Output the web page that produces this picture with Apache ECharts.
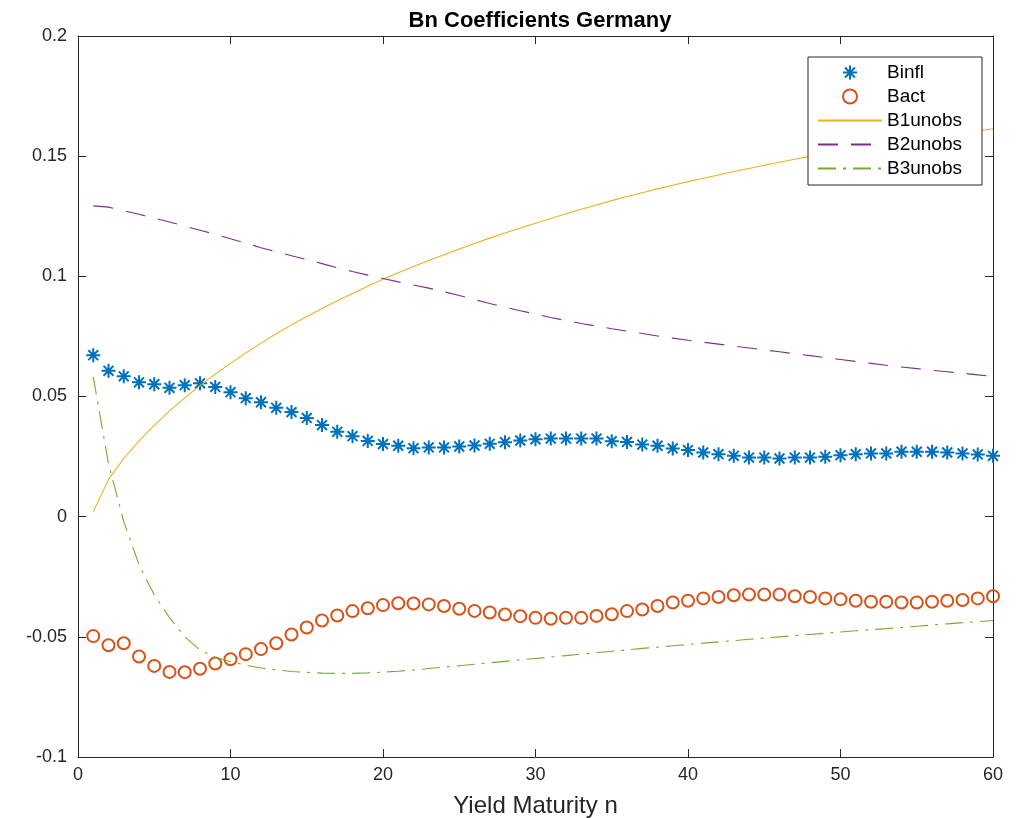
<!DOCTYPE html>
<html>
<head>
<meta charset="utf-8">
<script src="https://cdn.jsdelivr.net/npm/echarts@6/dist/echarts.min.js"></script>
<style>
html,body{margin:0;padding:0;background:#fff;}
#chart{width:1017px;height:818px;}
</style>
</head>
<body>
<div id="chart"></div>
<script>
var maturities = [];
for (var i = 1; i <= 60; i++) maturities.push(i);

var binfl = [0.0672,0.0607,0.0584,0.0559,0.0551,0.0536,0.0547,0.0555,0.0540,0.0518,
 0.0493,0.0476,0.0453,0.0435,0.0411,0.0381,0.0353,0.0335,0.0315,0.0302,
 0.0295,0.0285,0.0288,0.0288,0.0292,0.0296,0.0303,0.0310,0.0317,0.0322,
 0.0325,0.0325,0.0325,0.0325,0.0314,0.0311,0.0300,0.0295,0.0284,0.0277,
 0.0267,0.0260,0.0253,0.0246,0.0246,0.0242,0.0246,0.0246,0.0249,0.0256,
 0.0260,0.0263,0.0263,0.0270,0.0270,0.0270,0.0267,0.0263,0.0259,0.0253];

var bact = [-0.0497,-0.0535,-0.0527,-0.0582,-0.0621,-0.0646,-0.0647,-0.0633,-0.0611,-0.0593,
 -0.0572,-0.0551,-0.0527,-0.0490,-0.0461,-0.0432,-0.0411,-0.0393,-0.0381,-0.0368,
 -0.0360,-0.0361,-0.0365,-0.0372,-0.0383,-0.0392,-0.0399,-0.0407,-0.0414,-0.0421,
 -0.0425,-0.0421,-0.0421,-0.0413,-0.0406,-0.0393,-0.0386,-0.0372,-0.0357,-0.0350,
 -0.0340,-0.0334,-0.0327,-0.0324,-0.0324,-0.0324,-0.0331,-0.0334,-0.0340,-0.0344,
 -0.0350,-0.0354,-0.0354,-0.0357,-0.0357,-0.0354,-0.0350,-0.0347,-0.0340,-0.0331];

var b1unobs = [0.0020,0.0155,0.0242,0.0315,0.0380,0.0440,0.0494,0.0545,0.0593,0.0638,
 0.0681,0.0722,0.0761,0.0798,0.0833,0.0866,0.0898,0.0929,0.0959,0.0988,
 0.1015,0.1041,0.1066,0.1090,0.1114,0.1137,0.1159,0.1180,0.1201,0.1221,
 0.1241,0.1260,0.1279,0.1297,0.1315,0.1332,0.1348,0.1364,0.1379,0.1394,
 0.1408,0.1422,0.1436,0.1449,0.1462,0.1475,0.1487,0.1499,0.1510,0.1521,
 0.1531,0.1541,0.1551,0.1560,0.1569,0.1578,0.1587,0.1596,0.1605,0.1614];

var b2unobs = [0.1293,0.1288,0.1273,0.1258,0.1242,0.1226,0.1209,0.1192,0.1175,0.1156,
 0.1138,0.1119,0.1102,0.1086,0.1070,0.1053,0.1036,0.1020,0.1005,0.0991,
 0.0977,0.0964,0.0951,0.0936,0.0920,0.0903,0.0887,0.0871,0.0857,0.0843,
 0.0829,0.0816,0.0804,0.0793,0.0782,0.0772,0.0762,0.0752,0.0743,0.0734,
 0.0726,0.0718,0.0710,0.0702,0.0694,0.0686,0.0678,0.0670,0.0662,0.0654,
 0.0646,0.0638,0.0630,0.0623,0.0616,0.0609,0.0603,0.0597,0.0590,0.0584];

var b3unobs = [0.0582,0.0220,-0.0020,-0.0200,-0.0325,-0.0420,-0.0500,-0.0555,-0.0585,-0.0603,
 -0.0618,-0.0630,-0.0638,-0.0644,-0.0648,-0.0651,-0.0652,-0.0652,-0.0650,-0.0647,
 -0.0643,-0.0638,-0.0632,-0.0626,-0.0620,-0.0614,-0.0608,-0.0602,-0.0596,-0.0590,
 -0.0584,-0.0578,-0.0572,-0.0566,-0.0560,-0.0554,-0.0548,-0.0543,-0.0537,-0.0532,
 -0.0526,-0.0521,-0.0516,-0.0510,-0.0505,-0.0500,-0.0495,-0.0490,-0.0485,-0.0480,
 -0.0475,-0.0470,-0.0466,-0.0461,-0.0456,-0.0451,-0.0446,-0.0441,-0.0437,-0.0432];

var seriesNames = ['Binfl','Bact','B1unobs','B2unobs','B3unobs'];
var xTicks = {min: 0, max: 60, interval: 10};
var yTicks = {min: -0.1, max: 0.2, interval: 0.05};

function pairs(arr) { return arr.map(function (v, i) { return [maturities[i], v]; }); }

var FONT = '"Liberation Sans", Arial, Helvetica, sans-serif';
var AX = '#262626';
var asterisk = 'path://M0,-10L0,10M-10,0L10,0M-7.07,-7.07L7.07,7.07M-7.07,7.07L7.07,-7.07';

var chart = echarts.init(document.getElementById('chart'), null, {renderer: 'canvas'});
var option = {
  animation: false,
  backgroundColor: '#ffffff',
  title: {
    text: 'Bn Coefficients Germany',
    left: 535, top: 5, textAlign: 'center',
    textStyle: {fontFamily: FONT, fontSize: 22, fontWeight: 'bold', color: '#000'}
  },
  grid: {left: 78, right: 24, top: 36, bottom: 61, containLabel: false, outerBoundsMode: 'none'},
  legend: {
    data: [
      {name: 'Binfl'},
      {name: 'Bact'},
      {name: 'B1unobs', itemStyle: {opacity: 0}},
      {name: 'B2unobs', itemStyle: {opacity: 0}},
      {name: 'B3unobs', itemStyle: {opacity: 0}}
    ],
    orient: 'vertical', left: 808, top: 57,
    padding: [6, 11, 7, 9],
    itemWidth: 64, itemHeight: 14, itemGap: 5,
    backgroundColor: '#fff', borderColor: AX, borderWidth: 1, borderRadius: 0,
    textStyle: {fontFamily: FONT, fontSize: 19, color: '#000', lineHeight: 19, width: 84},
    symbolKeepAspect: true
  },
  xAxis: [{
    type: 'value', min: xTicks.min, max: xTicks.max, interval: xTicks.interval,
    position: 'bottom',
    name: 'Yield Maturity n', nameLocation: 'middle', nameGap: 37,
    nameTextStyle: {fontFamily: FONT, fontSize: 24, color: AX},
    axisLine: {show: true, onZero: false, lineStyle: {color: AX, width: 1}},
    axisTick: {show: true, inside: true, length: 8, lineStyle: {color: AX}},
    axisLabel: {fontFamily: FONT, fontSize: 18, color: AX, margin: 9},
    splitLine: {show: false}
  }, {
    type: 'value', min: xTicks.min, max: xTicks.max, interval: xTicks.interval,
    position: 'top',
    axisLine: {show: true, onZero: false, lineStyle: {color: AX, width: 1}},
    axisTick: {show: true, inside: true, length: 8, lineStyle: {color: AX}},
    axisLabel: {show: false}, splitLine: {show: false}
  }],
  yAxis: [{
    type: 'value', min: yTicks.min, max: yTicks.max, interval: yTicks.interval,
    position: 'left',
    axisLine: {show: true, onZero: false, lineStyle: {color: AX, width: 1}},
    axisTick: {show: true, inside: true, length: 8, lineStyle: {color: AX}},
    axisLabel: {fontFamily: FONT, fontSize: 18, color: AX, margin: 11},
    splitLine: {show: false}
  }, {
    type: 'value', min: yTicks.min, max: yTicks.max, interval: yTicks.interval,
    position: 'right',
    axisLine: {show: true, onZero: false, lineStyle: {color: AX, width: 1}},
    axisTick: {show: true, inside: true, length: 8, lineStyle: {color: AX}},
    axisLabel: {show: false}, splitLine: {show: false}
  }],
  series: [{
    name: 'Binfl', type: 'scatter', data: pairs(binfl),
    symbol: asterisk, symbolSize: 14,
    itemStyle: {color: '#0072BD', borderColor: '#0072BD', borderWidth: 2, opacity: 1},
    z: 2
  }, {
    name: 'Bact', type: 'scatter', data: pairs(bact),
    symbol: 'circle', symbolSize: 12,
    itemStyle: {color: 'rgba(255,255,255,0)', borderColor: '#D95319', borderWidth: 2, opacity: 1},
    z: 2
  }, {
    name: 'B1unobs', type: 'line', data: pairs(b1unobs), symbol: 'none', smooth: false,
    lineStyle: {color: '#EDB120', width: 1.1, type: 'solid'}, itemStyle: {color: '#EDB120'}, z: 3
  }, {
    name: 'B2unobs', type: 'line', data: pairs(b2unobs), symbol: 'none',
    lineStyle: {color: '#7E2F8E', width: 1.1, type: [20, 13]}, itemStyle: {color: '#7E2F8E'}, z: 3
  }, {
    name: 'B3unobs', type: 'line', data: pairs(b3unobs), symbol: 'none',
    lineStyle: {color: '#77AC30', width: 1.1, type: [18, 7, 3, 7]}, itemStyle: {color: '#77AC30'}, z: 3
  }]
};
chart.setOption(option);
</script>
</body>
</html>
